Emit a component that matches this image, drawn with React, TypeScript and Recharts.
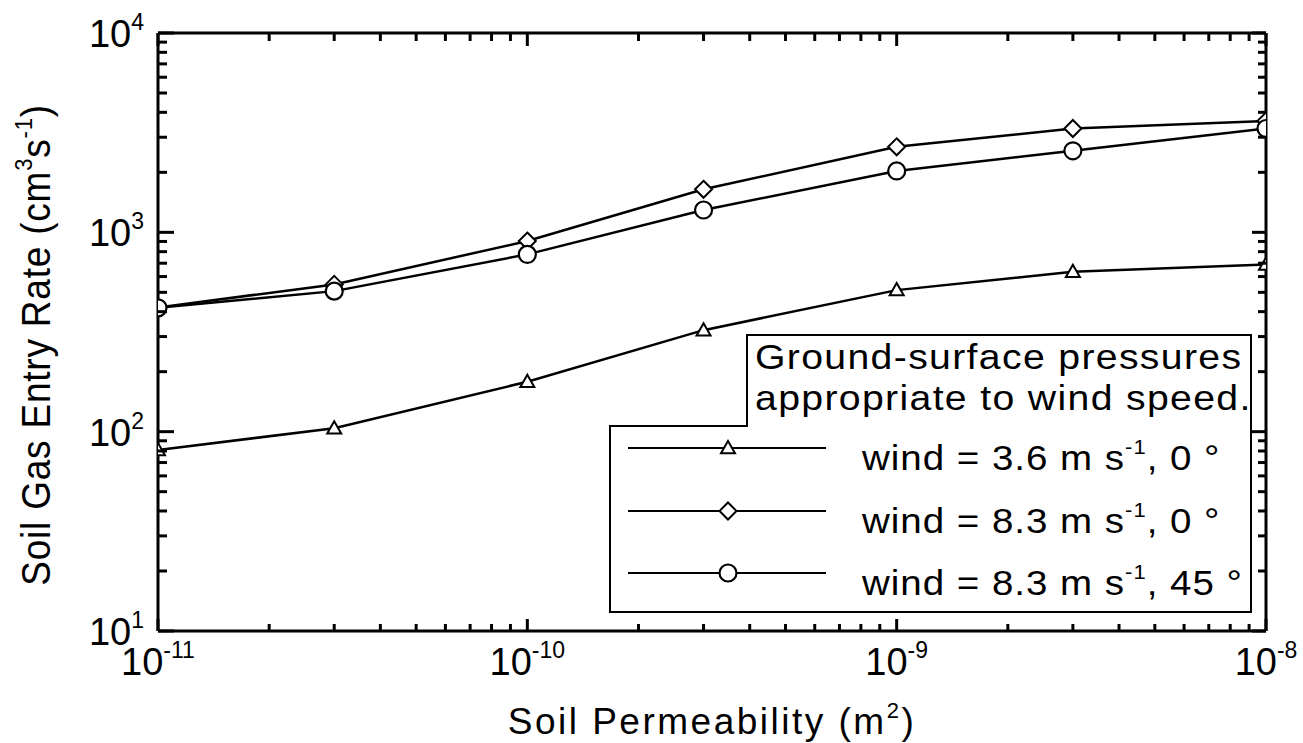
import React from 'react';
import { LineChart, Line, XAxis, YAxis } from 'recharts';

// Soil permeability (m^2) at which the model was evaluated
const permeability = [1e-11, 3e-11, 1e-10, 3e-10, 1e-9, 3e-9, 1e-8];

// Soil gas entry rate (cm^3 s^-1) for each wind case
const wind36deg0 = [81, 104, 178, 323, 513, 634, 690];
const wind83deg0 = [420, 548, 904, 1644, 2686, 3319, 3623];
const wind83deg45 = [418, 507, 775, 1294, 2032, 2565, 3319];

const xDecades = [-11, -10, -9, -8];
const yDecades = [1, 2, 3, 4];

const legendTitle = ['Ground-surface pressures', 'appropriate to wind speed.'];
const legendSpeeds = ['3.6', '8.3', '8.3'];
const legendAngles = ['0', '0', '45'];
const legendShapes = ['triangle', 'diamond', 'circle'];

const FONT = '"Liberation Sans", Arial, Helvetica, sans-serif';
const W = 1303;
const H = 743;

const X_MIN = Math.pow(10, xDecades[0]);
const X_MAX = Math.pow(10, xDecades[xDecades.length - 1]);
const Y_MIN = Math.pow(10, yDecades[0]);
const Y_MAX = Math.pow(10, yDecades[yDecades.length - 1]);

type Side = 'bottom' | 'top' | 'left' | 'right';

// inward tick lengths on each side of the frame
const MINOR = { bottom: 7, top: 8, left: 9, right: 8 };
const MAJOR = { bottom: 12, top: 13, left: 16, right: 14 };

// log axis ticks: decades plus 2..9 minor ticks in between
const logTicks = (decades: number[]) => {
  const out: number[] = [];
  for (let i = 0; i < decades.length - 1; i++) {
    for (let m = 1; m <= 9; m++) out.push(m * Math.pow(10, decades[i]));
  }
  out.push(Math.pow(10, decades[decades.length - 1]));
  return out;
};
const xTicks = logTicks(xDecades);
const yTicks = logTicks(yDecades);

const decadeOf = (v: number) => {
  const l = Math.log10(v);
  const r = Math.round(l);
  return Math.abs(l - r) < 1e-6 ? r : null;
};

const rows = permeability.map((k, i) => ({
  k,
  a: wind36deg0[i],
  b: wind83deg0[i],
  c: wind83deg45[i],
}));

const tickPath = (side: Side, x: number, y: number, value: number) => {
  const len = decadeOf(value) !== null ? MAJOR[side] : MINOR[side];
  if (side === 'bottom') return `M${x},${y}L${x},${y - len}`;
  if (side === 'top') return `M${x},${y}L${x},${y + len}`;
  if (side === 'left') return `M${x},${y}L${x + len},${y}`;
  return `M${x},${y}L${x - len},${y}`;
};

const Marker = ({ shape, cx, cy }: { shape: string; cx: number; cy: number }) => {
  if (shape === 'triangle') {
    const s = 7;
    return (
      <polygon
        points={`${cx},${cy - s} ${cx - s},${cy + s * 0.75} ${cx + s},${cy + s * 0.75}`}
        fill="#fff"
        stroke="#000"
        strokeWidth={2}
      />
    );
  }
  if (shape === 'diamond') {
    const s = 8.5;
    return (
      <polygon
        points={`${cx},${cy - s} ${cx + s},${cy} ${cx},${cy + s} ${cx - s},${cy}`}
        fill="#fff"
        stroke="#000"
        strokeWidth={2}
      />
    );
  }
  return <circle cx={cx} cy={cy} r={8.5} fill="#fff" stroke="#000" strokeWidth={2.2} />;
};

const dotFor = (shape: string) => (p: any) => (
  <Marker key={`${shape}-${p.index}`} shape={shape} cx={p.cx} cy={p.cy} />
);

const Power = ({ x, y, exp, anchor }: { x: number; y: number; exp: number; anchor: string }) => (
  <text x={x} y={y} textAnchor={anchor as any} fontFamily={FONT} fontSize={38} fill="#000">
    10
    <tspan dy={-17} fontSize={23}>
      {exp}
    </tspan>
  </text>
);

// axis tick renderers: inward tick mark, plus the power-of-ten label on decades
const axisTick = (side: Side) => (props: any) => {
  const x = Number(props.x);
  const y = Number(props.y);
  const v = props.payload.value;
  const d = decadeOf(v);
  return (
    <g>
      <path d={tickPath(side, x, y, v)} stroke="#000" strokeWidth={3} fill="none" />
      {d !== null && side === 'bottom' && <Power x={x} y={y + 44} exp={d} anchor="middle" />}
      {d !== null && side === 'left' && <Power x={x - 14} y={y + 14} exp={d} anchor="end" />}
    </g>
  );
};

const axisLine = { stroke: '#000', strokeWidth: 3 };

const Legend = () => {
  const left = 610;
  const step = 747;
  const right = 1251;
  const top = 335;
  const mid = 426;
  const bottom = 612;
  const rowY = [448, 511, 573];
  return (
    <svg
      width={W}
      height={H}
      style={{ position: 'absolute', left: 0, top: 0, pointerEvents: 'none' }}
    >
      <path
        d={`M${step},${top} H${right} V${bottom} H${left} V${mid} H${step} Z`}
        fill="#fff"
        stroke="#000"
        strokeWidth={2}
      />
      {legendTitle.map((t, i) => (
        <text
          key={t}
          transform={`translate(755,${369 + i * 41}) scale(1.12,1)`}
          fontFamily={FONT}
          fontSize={35}
          letterSpacing={1.2}
          fill="#000"
        >
          {t}
        </text>
      ))}
      {legendShapes.map((shape, i) => (
        <g key={shape}>
          <line x1={628} x2={826} y1={rowY[i]} y2={rowY[i]} stroke="#000" strokeWidth={2.2} />
          <Marker shape={shape} cx={728} cy={rowY[i]} />
          <text
            transform={`translate(862,${rowY[i] + 22}) scale(1.1,1)`}
            fontFamily={FONT}
            fontSize={35}
            letterSpacing={0.9}
            fill="#000"
          >
            {`wind = ${legendSpeeds[i]} m s`}
            <tspan dy={-16} fontSize={20}>
              -1
            </tspan>
            <tspan dy={16}>{`, ${legendAngles[i]} °`}</tspan>
          </text>
        </g>
      ))}
    </svg>
  );
};

const commonX = {
  dataKey: 'k',
  type: 'number' as const,
  scale: 'log' as const,
  domain: [X_MIN, X_MAX],
  ticks: xTicks,
  interval: 0 as const,
  tickSize: 0,
  tickMargin: 0,
  tickLine: false,
  axisLine,
  allowDataOverflow: true,
};

const commonY = {
  type: 'number' as const,
  scale: 'log' as const,
  domain: [Y_MIN, Y_MAX],
  ticks: yTicks,
  interval: 0 as const,
  tickSize: 0,
  tickMargin: 0,
  tickLine: false,
  axisLine,
  allowDataOverflow: true,
};

export default function App() {
  return (
    <div style={{ position: 'absolute', left: 0, top: 0, width: W, height: H, background: '#fff' }}>
      <LineChart
        width={W}
        height={H}
        data={rows}
        margin={{ top: 23, right: 27, bottom: 52, left: 98 }}
      >
        <XAxis {...commonX} height={60} tick={axisTick('bottom')} />
        <XAxis {...commonX} xAxisId="top" orientation="top" height={10} tick={axisTick('top')} />
        <YAxis {...commonY} width={60} tick={axisTick('left')} />
        <YAxis {...commonY} yAxisId="right" orientation="right" width={10} tick={axisTick('right')} />
        <Line
          dataKey="a"
          type="linear"
          stroke="#000"
          strokeWidth={2.5}
          dot={dotFor('triangle')}
          isAnimationActive={false}
        />
        <Line
          dataKey="b"
          type="linear"
          stroke="#000"
          strokeWidth={2.5}
          dot={dotFor('diamond')}
          isAnimationActive={false}
        />
        <Line
          dataKey="c"
          type="linear"
          stroke="#000"
          strokeWidth={2.5}
          dot={dotFor('circle')}
          isAnimationActive={false}
        />
      </LineChart>
      <svg
        width={W}
        height={H}
        style={{ position: 'absolute', left: 0, top: 0, pointerEvents: 'none' }}
      >
        <text
          x={712}
          y={734}
          textAnchor="middle"
          fontFamily={FONT}
          fontSize={37}
          letterSpacing={2.5}
          fill="#000"
        >
          Soil Permeability (m
          <tspan dy={-16} fontSize={22}>
            2
          </tspan>
          <tspan dy={16}>)</tspan>
        </text>
        <text
          transform="translate(50,345) scale(1.1,1) rotate(-90)"
          textAnchor="middle"
          fontFamily={FONT}
          fontSize={37}
          letterSpacing={0.8}
          fill="#000"
        >
          Soil Gas Entry Rate (cm
          <tspan dy={-16} fontSize={22}>
            3
          </tspan>
          <tspan dy={16}>s</tspan>
          <tspan dy={-16} fontSize={22}>
            -1
          </tspan>
          <tspan dy={16}>)</tspan>
        </text>
      </svg>
      <Legend />
    </div>
  );
}
